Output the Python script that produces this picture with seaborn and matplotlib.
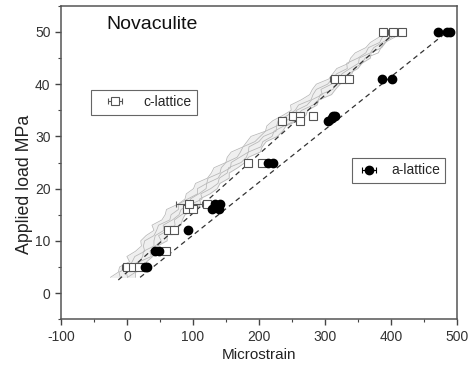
import matplotlib
matplotlib.use("Agg")
import matplotlib.pyplot as plt
import seaborn as sns
import pandas as pd
from matplotlib.ticker import MultipleLocator

# ---------------- data ----------------
title_text = "Novaculite"
x_label = "Microstrain"
y_label = "Applied load MPa"

# gray load-strain traces (common load levels, MPa)
trace_load = [3, 4, 5, 6, 7, 8, 9, 10, 11, 12, 13, 14, 15, 16, 17, 18, 19, 20, 21, 22,
              23, 24, 25, 26, 27, 28, 29, 30, 31, 32, 33, 34, 35, 36, 37, 38, 39, 40,
              41, 42, 43, 44, 45, 46, 47, 48, 49, 50]
trace_1 = [-25, -13, -11, 4, 0, 13, 22, 21, 29, 41, 38, 53, 58, 60, 77, 88, 90, 101, 104, 122,
           128, 132, 150, 152, 158, 176, 182, 188, 210, 212, 221, 236, 249, 248, 264, 277, 281, 287,
           306, 312, 318, 336, 339, 346, 362, 369, 382, 387]
trace_2 = [-10, -12, 4, 8, 12, 27, 25, 27, 41, 45, 48, 65, 67, 78, 78, 92, 107, 107, 121, 123,
           141, 143, 150, 167, 172, 176, 194, 202, 210, 227, 229, 243, 255, 260, 279, 282, 287, 304,
           311, 318, 334, 333, 350, 362, 366, 383, 387, 398]
trace_3 = [1, -1, 2, 19, 24, 25, 41, 41, 43, 56, 55, 69, 79, 82, 97, 96, 109, 120, 121, 138,
           143, 157, 158, 171, 184, 185, 200, 207, 226, 227, 241, 255, 257, 273, 280, 296, 294, 310,
           322, 326, 338, 351, 352, 369, 374, 387, 402, 402]
trace_4 = [1, 13, 17, 19, 37, 35, 43, 52, 48, 62, 73, 72, 83, 96, 97, 114, 112, 127, 138, 140,
           152, 154, 173, 181, 184, 203, 206, 220, 223, 238, 255, 257, 265, 282, 290, 293, 312, 317,
           324, 341, 344, 356, 361, 381, 385, 391, 406, 412]
trace_5 = [13, 13, 29, 30, 39, 48, 46, 61, 61, 65, 82, 84, 88, 102, 112, 110, 126, 137, 141, 155,
           155, 168, 179, 184, 202, 205, 211, 228, 236, 241, 259, 271, 274, 288, 291, 310, 316, 323,
           337, 336, 350, 356, 369, 370, 386, 392, 398, 411]

# c-lattice (open squares)
c_strain = [0, 10, 19, 60, 63, 72, 91, 100, 94, 122, 184, 204, 235, 252, 262, 282, 262,
            316, 326, 336, 388, 403, 417]
c_load = [5, 5, 5, 8, 12, 12, 16, 16, 17, 17, 25, 25, 33, 34, 34, 34, 33,
          41, 41, 41, 50, 50, 50]
c_err = [8, 0, 0, 0, 6, 0, 0, 0, 20, 0, 0, 0, 0, 0, 0, 0, 0,
         8, 0, 0, 0, 8, 0]

# a-lattice (filled circles)
a_strain = [28, 31, 43, 48, 93, 129, 134, 140, 141, 214, 222, 305, 311, 316, 312,
            387, 402, 472, 485, 490]
a_load = [5, 5, 8, 8, 12, 16, 17, 16, 17, 25, 25, 33, 33.5, 34, 34,
          41, 41, 50, 50, 50]
a_err = [4, 0, 3, 0, 0, 0, 0, 0, 0, 0, 0, 0, 0, 0, 0, 0, 0, 0, 0, 0]

# dashed linear fits (end points)
c_fit_strain = [-13, 407]
c_fit_load = [2.5, 50]
a_fit_strain = [20, 485]
a_fit_load = [3, 50]

# ---------------- figure ----------------
sns.set_theme(style="ticks")
plt.rcParams["font.family"] = ["Liberation Sans", "DejaVu Sans"]
plt.rcParams["axes.unicode_minus"] = False

fig = plt.figure(figsize=(4.72, 3.66), dpi=100)
ax = fig.add_axes([0.129, 0.128, 0.839, 0.856])

runs = [trace_1, trace_2, trace_3, trace_4, trace_5]
traces = pd.DataFrame({
    "load": trace_load * len(runs),
    "strain": sum(runs, []),
    "run": sum([[f"t{i}"] * len(trace_load) for i in range(len(runs))], []),
})

# light background of the noisy trace bundle
ax.fill_betweenx(trace_load, trace_1, trace_5, color="#efefef", lw=0, zorder=1)
sns.lineplot(data=traces, x="strain", y="load", units="run", estimator=None,
             sort=False, color="#b6b6b6", lw=0.55, ax=ax, legend=False, zorder=2)

# dashed fits
ax.plot(c_fit_strain, c_fit_load, ls=(0, (4, 3)), color="#333333", lw=0.9, zorder=3)
ax.plot(a_fit_strain, a_fit_load, ls=(0, (4, 3)), color="#333333", lw=0.9, zorder=3)

# data with horizontal error bars
c_h = ax.errorbar(c_strain, c_load, xerr=c_err, fmt="s", ms=5.2, mfc="white",
                  mec="#555555", mew=0.8, ecolor="#555555", elinewidth=0.8,
                  capsize=2.5, capthick=0.8, zorder=4, label="c-lattice")
a_h = ax.errorbar(a_strain, a_load, xerr=a_err, fmt="o", ms=6, mfc="black",
                  mec="black", ecolor="black", elinewidth=0.8, capsize=2.5,
                  capthick=0.8, zorder=5, label="a-lattice")

ax.set_xlim(-100, 500)
ax.set_ylim(-5, 55)
ax.xaxis.set_major_locator(MultipleLocator(100))
ax.xaxis.set_minor_locator(MultipleLocator(50))
ax.yaxis.set_major_locator(MultipleLocator(10))
ax.yaxis.set_minor_locator(MultipleLocator(5))
ax.tick_params(which="major", direction="out", length=4, width=1, color="#444444",
               labelsize=10, labelcolor="#333333")
ax.tick_params(which="minor", direction="out", length=2.5, width=0.8, color="#444444")
for s in ax.spines.values():
    s.set_color("#555555")
    s.set_linewidth(1.1)

ax.set_xlabel(x_label, fontsize=11, color="#222222", labelpad=3)
ax.set_ylabel(y_label, fontsize=12.8, color="#222222")
ax.yaxis.set_label_coords(-0.071, 0.43)
ax.text(0.115, 0.94, title_text, transform=ax.transAxes, fontsize=14,
        color="#111111", va="center", ha="left")

leg1 = ax.legend(handles=[c_h], labels=["c-lattice"], loc="upper left",
                 bbox_to_anchor=(0.058, 0.755), fancybox=False, framealpha=1,
                 edgecolor="#666666", fontsize=10, handlelength=2.7,
                 borderpad=0.4, handletextpad=0.7)
leg1.get_frame().set_linewidth(0.8)
ax.add_artist(leg1)
leg2 = ax.legend(handles=[a_h], labels=["a-lattice"], loc="upper left",
                 bbox_to_anchor=(0.718, 0.537), fancybox=False, framealpha=1,
                 edgecolor="#666666", fontsize=10, handlelength=1.6,
                 borderpad=0.4, handletextpad=0.8)
leg2.get_frame().set_linewidth(0.8)

fig.savefig("out.png", dpi=100)
